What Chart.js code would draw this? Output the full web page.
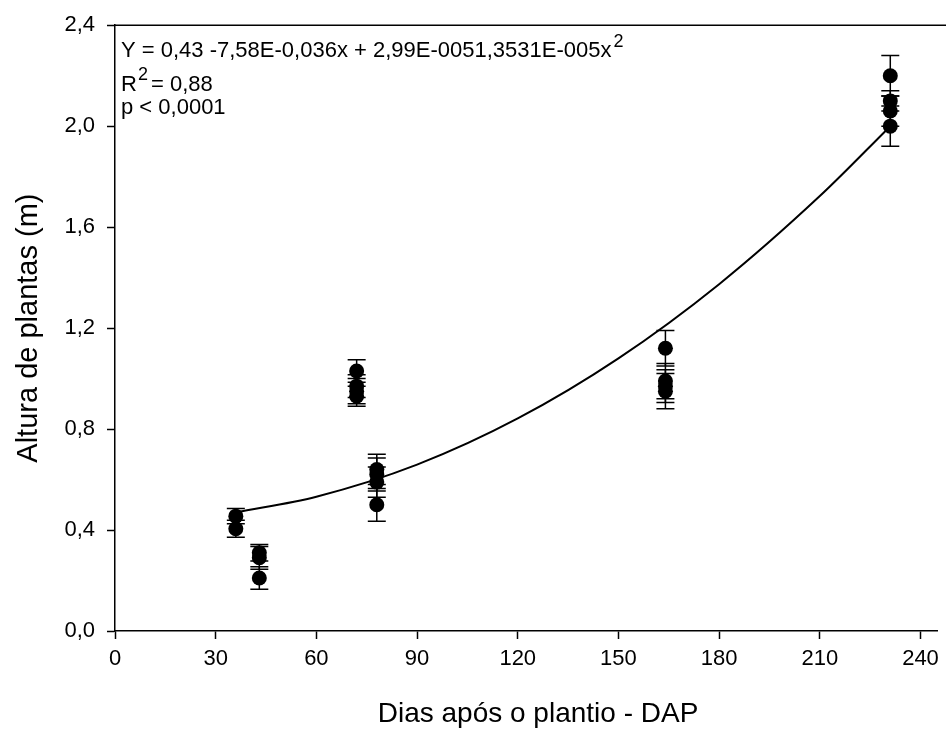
<!DOCTYPE html>
<html>
<head>
<meta charset="utf-8">
<script src="https://cdn.jsdelivr.net/npm/chart.js@4.4.1/dist/chart.umd.min.js"></script>
<style>
  html, body { margin: 0; padding: 0; background: #fff; }
</style>
</head>
<body>
<canvas id="alturaChart" width="946" height="731"></canvas>
<script>
// avaliações (DAP) e alturas médias com erro padrão
const dias = [36, 43, 72, 78, 164, 231]
const alturaMedia = [
  [0.455, 0.405],
  [0.31, 0.29, 0.21],
  [1.03, 0.97, 0.95, 0.93],
  [0.64, 0.62, 0.59, 0.50],
  [1.12, 0.99, 0.97, 0.95],
  [2.20, 2.10, 2.06, 2.00],
]
const erroPadrao = [
  [0.03, 0.034],
  [0.033, 0.045, 0.045],
  [0.045, 0.045, 0.05, 0.04],
  [0.06, 0.065, 0.06, 0.065],
  [0.07, 0.07, 0.065, 0.07],
  [0.08, 0.04, 0.06, 0.08],
]

// curva de regressão lida sobre o gráfico
const curvaDias = [36, 60, 90, 120, 150, 180, 210, 231]
const curvaAltura = [0.47, 0.532, 0.659, 0.842, 1.08, 1.374, 1.723, 2.0]

const xTicks = [0, 30, 60, 90, 120, 150, 180, 210, 240]
const yTicks = [0, 0.4, 0.8, 1.2, 1.6, 2.0, 2.4]

const fonte = '"Liberation Sans", Arial, Helvetica, sans-serif'

const pontos = []
const erros = []
dias.forEach(function (d, i) {
  alturaMedia[i].forEach(function (v, j) {
    pontos.push({ x: d, y: v })
    erros.push(erroPadrao[i][j])
  })
})

// barras de erro desenhadas antes dos marcadores
const barrasErro = {
  id: 'barrasErro',
  beforeDatasetsDraw(chart) {
    const ctx = chart.ctx
    const xs = chart.scales.x
    const ys = chart.scales.y
    ctx.save()
    ctx.strokeStyle = '#000'
    ctx.lineWidth = 1.5
    pontos.forEach(function (p, k) {
      const px = xs.getPixelForValue(p.x)
      const top = ys.getPixelForValue(p.y + erros[k])
      const bot = ys.getPixelForValue(p.y - erros[k])
      ctx.beginPath()
      ctx.moveTo(px, top)
      ctx.lineTo(px, bot)
      ctx.moveTo(px - 9, top)
      ctx.lineTo(px + 9, top)
      ctx.moveTo(px - 9, bot)
      ctx.lineTo(px + 9, bot)
      ctx.stroke()
    })
    ctx.restore()
  },
}

// linha superior do quadro, título do eixo x e texto da equação
const quadro = {
  id: 'quadro',
  afterDraw(chart) {
    const ctx = chart.ctx
    const a = chart.chartArea
    ctx.save()
    ctx.strokeStyle = '#000'
    ctx.lineWidth = 1.5
    ctx.beginPath()
    ctx.moveTo(a.left, a.top)
    ctx.lineTo(946, a.top)
    ctx.stroke()

    ctx.fillStyle = '#000'
    ctx.textBaseline = 'alphabetic'
    ctx.textAlign = 'center'
    ctx.font = '28px ' + fonte
    ctx.fillText('Dias após o plantio - DAP', 538, 722)

    ctx.textAlign = 'left'
    ctx.font = '22px ' + fonte
    const x0 = a.left + 6
    const l1 = 'Y = 0,43 -7,58E-0,036x + 2,99E-0051,3531E-005x'
    ctx.fillText(l1, x0, 57)
    const w1 = ctx.measureText(l1).width
    const wR = ctx.measureText('R').width
    ctx.fillText('R', x0, 91)
    ctx.fillText(' = 0,88', x0 + wR + 8, 91)
    ctx.fillText('p < 0,0001', x0, 114)
    ctx.font = '18px ' + fonte
    ctx.fillText('2', x0 + w1 + 2, 47)
    ctx.fillText('2', x0 + wR + 1, 80)
    ctx.restore()
  },
}

const ctx = document.getElementById('alturaChart').getContext('2d')
const grafico = new Chart(ctx, {
  type: 'scatter',
  data: {
    datasets: [
      {
        type: 'line',
        data: curvaDias.map(function (d, i) { return { x: d, y: curvaAltura[i] } }),
        borderColor: '#000',
        borderWidth: 2,
        pointRadius: 0,
        fill: false,
        cubicInterpolationMode: 'monotone',
      },
      {
        data: pontos,
        backgroundColor: '#000',
        borderColor: '#000',
        pointRadius: 7.5,
        borderWidth: 0,
      },
    ],
  },
  options: {
    responsive: false,
    animation: false,
    layout: { padding: { top: 23, right: 2, left: 0, bottom: 0 } },
    plugins: { legend: { display: false }, tooltip: { enabled: false } },
    scales: {
      x: {
        type: 'linear',
        min: 0,
        max: 245,
        afterFit: function (s) { s.height = 100 },
        afterBuildTicks: function (s) { s.ticks = xTicks.map(function (v) { return { value: v } }) },
        grid: { drawOnChartArea: false, tickLength: 8, tickColor: '#000', tickWidth: 1.5 },
        border: { color: '#000', width: 1.5 },
        ticks: { color: '#000', padding: 7, maxRotation: 0, font: { family: fonte, size: 22 } },
      },
      y: {
        min: 0,
        max: 2.4,
        afterFit: function (s) { s.width = 115 },
        afterBuildTicks: function (s) { s.ticks = yTicks.map(function (v) { return { value: v } }) },
        grid: { drawOnChartArea: false, tickLength: 8, tickColor: '#000', tickWidth: 1.5 },
        border: { color: '#000', width: 1.5 },
        ticks: {
          color: '#000',
          padding: 12,
          font: { family: fonte, size: 22 },
          callback: function (v) { return v.toFixed(1).replace('.', ',') },
        },
        title: {
          display: true,
          text: 'Altura de plantas (m)',
          color: '#000',
          font: { family: fonte, size: 29 },
          padding: { top: 12, bottom: 0 },
        },
      },
    },
  },
  plugins: [barrasErro, quadro],
})
</script>
</body>
</html>
